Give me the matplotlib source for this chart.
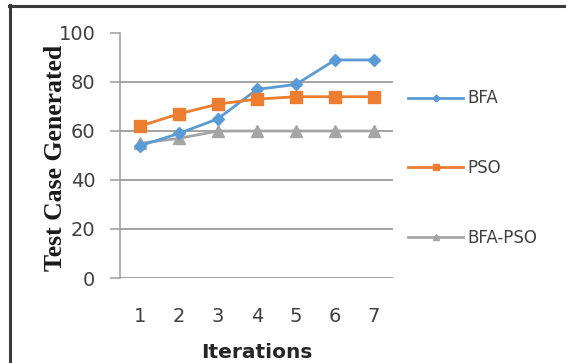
import matplotlib
matplotlib.use("Agg")
import matplotlib.pyplot as plt
from matplotlib.lines import Line2D

# values
iterations = [1, 2, 3, 4, 5, 6, 7]
bfa = [54, 59, 65, 77, 79, 89, 89]
pso = [62, 67, 71, 73, 74, 74, 74]
bfa_pso = [55, 57, 60, 60, 60, 60, 60]
y_ticks = [0, 20, 40, 60, 80, 100]

C_BFA = "#5B9BD5"
C_PSO = "#ED7D31"
C_MIX = "#A5A5A5"
C_GRID = "#9C9C9C"
C_TEXT = "#404040"

W, H = 566, 363
fig = plt.figure(figsize=(W / 100, H / 100), dpi=100)
fig.patch.set_facecolor("white")

# plot area: x 0.5..7.5 -> px 120.5..393.5, y 0..100 -> px 278..33
ax = fig.add_axes([120.5 / W, (H - 278) / H, 273 / W, 245 / H])
ax.set_xlim(0.5, 7.5)
ax.set_ylim(0, 100)

ax.plot(iterations, bfa_pso, color=C_MIX, lw=2.0, marker="^", ms=8, zorder=3)
ax.plot(iterations, bfa, color=C_BFA, lw=2.0, marker="D", ms=6, zorder=4)
ax.plot(iterations, pso, color=C_PSO, lw=2.0, marker="s", ms=9, zorder=5)

for s in ["top", "right", "bottom"]:
    ax.spines[s].set_visible(False)
ax.spines["left"].set_color(C_GRID)
ax.spines["left"].set_linewidth(1.1)

ax.set_yticks(y_ticks)
ax.set_xticks(iterations)
ax.tick_params(axis="y", length=7, width=1.1, color=C_GRID, pad=11,
               labelsize=14, labelcolor=C_TEXT)
ax.tick_params(axis="x", length=0, pad=21, labelsize=14, labelcolor=C_TEXT)
ax.yaxis.grid(True, color=C_GRID, lw=1.3, zorder=0)
ax.get_ygridlines()[-1].set_visible(False)
ax.set_axisbelow(True)

fig.text(56 / W, 1 - 158 / H, "Test Case Generated", rotation=90,
         ha="center", va="center", fontsize=18.5, fontweight="bold",
         family="Liberation Serif", color="#1a1a1a")
fig.text(257 / W, 1 - 358 / H, "Iterations", ha="center", va="baseline",
         fontsize=14.5, fontweight="bold", color="#262626")

handles = [
    Line2D([0], [0], color=C_BFA, lw=2.0, marker="D", ms=3.5),
    Line2D([0], [0], color=C_PSO, lw=2.0, marker="s", ms=5),
    Line2D([0], [0], color=C_MIX, lw=2.0, marker="^", ms=5),
]
fig.legend(handles, ["BFA", "PSO", "BFA-PSO"], loc="center left",
           bbox_to_anchor=(408 / W, 1 - 168 / H), bbox_transform=fig.transFigure,
           frameon=False, fontsize=12, labelcolor=C_TEXT, handlelength=3.3,
           handletextpad=0.25, labelspacing=3.1, borderpad=0, borderaxespad=0)

# outer frame (left and top edges of the embedded picture)
fig.add_artist(Line2D([10 / W, 10 / W], [0, 1 - 5 / H], color="#3a3a3a",
                      lw=2.2, transform=fig.transFigure))
fig.add_artist(Line2D([9 / W, 1], [1 - 6 / H, 1 - 6 / H], color="#3a3a3a",
                      lw=2.2, transform=fig.transFigure))

fig.savefig("out.png", dpi=100, facecolor="white")
